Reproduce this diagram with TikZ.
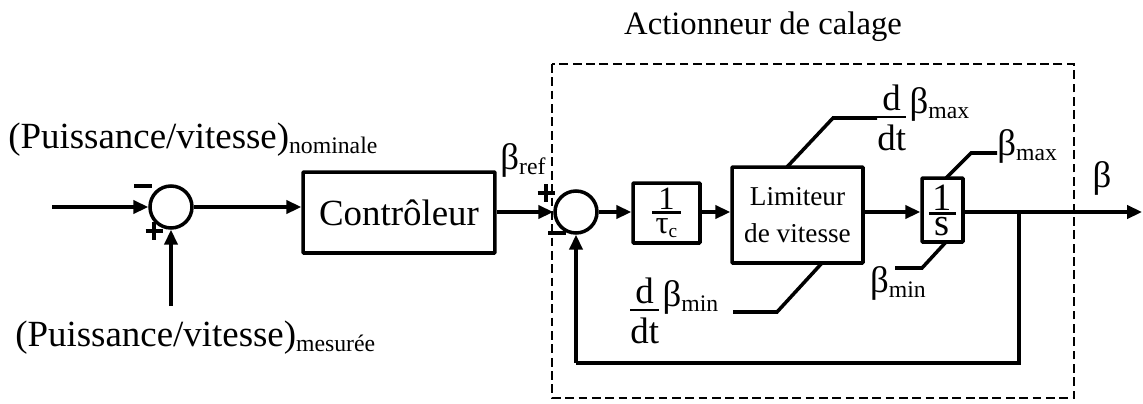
\documentclass[tikz,border=0pt]{standalone}
\usepackage{fontspec}
\setmainfont{Liberation Serif}
\usetikzlibrary{arrows.meta}
\newcommand{\mysub}[1]{\raisebox{-0.3ex}{\fontsize{13.5}{14}\selectfont #1}}
\newcommand{\mysubb}[1]{\raisebox{-0.3ex}{\fontsize{11}{11}\selectfont #1}}
\newlength\frw
% \bfr[extra bar width]{num}{den}{gap above bar}{gap below bar}
\newcommand{\bfr}[5][0pt]{\settowidth\frw{#3}\addtolength\frw{#1}\vbox{\offinterlineskip\halign{\hfil##\hfil\cr #2\cr\noalign{\vskip #4}\rule{\frw}{1.6pt}\cr\noalign{\vskip #5}#3\cr}}}
\newcommand{\pls}{\rlap{\rule[3.9pt]{10pt}{2.2pt}}\hspace{3.9pt}\rule{2.2pt}{10pt}\hspace{3.9pt}}
\newcommand{\mns}{\rule{10pt}{2.2pt}}
\begin{document}
\begin{tikzpicture}[x=0.02cm,y=-0.02cm,
  every node/.style={font=\fontsize{21}{24}\selectfont, inner sep=0pt},
  line/.style={line width=2pt},
  arr/.style={line width=2pt,-{Triangle[length=8.5pt,width=7.5pt]}},
  blk/.style={draw, line width=2pt, rectangle, rounded corners=0.5pt},
  sumc/.style={draw, line width=2pt, circle, minimum size=0.84cm},
  sgn/.style={}]
\useasboundingbox (0,0) rectangle (1143,403);
% dashed frame
\draw[line width=1.4pt, dash pattern=on 5pt off 2.6pt] (552,64) rectangle (1074,398);
\node[font=\fontsize{18.6}{22}\selectfont] (title) at (763,27) {Actionneur de calage};
% blocks
\node[sumc] (s1) at (171,207) {};
\node[blk, minimum width=3.84cm, minimum height=1.62cm] (ctrl) at (399,212.5) {Contrôleur};
\node[sumc] (s2) at (576,212) {};
\node[blk, minimum width=1.34cm, minimum height=1.2cm] (tau) at (666.5,213) {\fontsize{18.5}{20}\selectfont\bfr[4pt]{1}{τ\mysubb{c}}{0.8pt}{2.5pt}};
\node[blk, minimum width=2.62cm, minimum height=1.92cm, align=center, font=\fontsize{15.5}{21.5}\selectfont] (lim) at (797.5,215) {Limiteur\\de vitesse};
\node[blk, minimum width=0.82cm, minimum height=1.28cm] (integ) at (942.5,210) {\fontsize{22}{24}\selectfont\bfr[7pt]{1}{s}{1pt}{1.2pt}};
% texts
\node[anchor=base west] (nom) at (8,148) {(Puissance/vitesse)\mysub{nominale}};
\node[anchor=base west] (mes) at (15,346) {(Puissance/vitesse)\mysub{mesurée}};
\node (bref) at (523,160) {β\mysub{ref}};
\node (beta) at (1102,178) {β};
\node[anchor=base west] (dmax) at (877,150) {\bfr{d}{dt}{2.6pt}{3.4pt}\hspace{2pt}\raisebox{1em}{β\mysub{max}}};
\node[anchor=base west] (dmin) at (630,343) {\bfr{d}{dt}{2.6pt}{3.4pt}\hspace{2pt}\raisebox{1em}{β\mysub{min}}};
\node[anchor=west] (bmax) at (997,146) {β\mysub{max}};
\node (bmin) at (898,283) {β\mysub{min}};
% signs
\node[sgn] (m1) at (143,186) {\mns};
\node[sgn] (p1) at (151,231) {\pls};
\node[sgn] (p2) at (543,193) {\pls};
\node[sgn] (m2) at (557,233) {\mns};
% coordinates
\coordinate (in1) at (52,207);
\coordinate (in2) at (171,306);
\coordinate (out) at (1142,212);
\coordinate (br) at (1019,212);
\coordinate (fb1) at (1019,363);
\coordinate (fb2) at (576,363);
% connectors
\draw[arr] (in1) -- (s1.west);
\draw[arr] (in2) -- (s1.south);
\draw[arr] (s1.east) -- (s1.east -| ctrl.west);
\draw[arr] (ctrl.east |- s2) -- (s2.west);
\draw[arr] (s2.east) -- (tau.west |- s2);
\draw[arr] (tau.east |- s2) -- (lim.west |- s2);
\draw[arr] (lim.east |- s2) -- (integ.west |- s2);
\draw[arr] (integ.east |- s2) -- (out);
\draw[line] (br) -- (fb1) -- (fb2);
\draw[arr] (fb2) -- (s2.south);
% saturation lines
\draw[line] (787,167) -- (833,118) -- (dmax.west |- 0,118);
\draw[line] (822,263) -- (777,312) -- (733,312);
\draw[line] (946,178) -- (971,153) -- (997,153);
\draw[line] (946,242) -- (922,268) -- (895,268);
\end{tikzpicture}
\end{document}
